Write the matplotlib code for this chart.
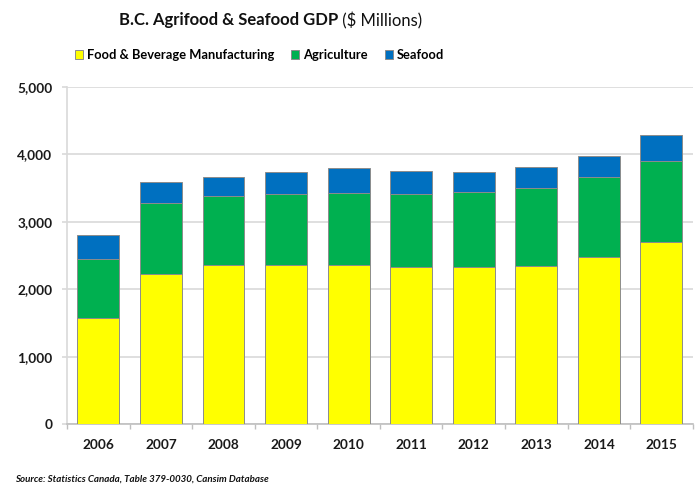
import numpy as np
import matplotlib.pyplot as plt
from matplotlib.ticker import FuncFormatter, FixedLocator

years = ['2006', '2007', '2008', '2009', '2010', '2011', '2012', '2013', '2014', '2015']
food_bev = [1573, 2226, 2359, 2359, 2359, 2329, 2335, 2344, 2478, 2700]
agriculture = [875, 1053, 1024, 1053, 1068, 1083, 1107, 1157, 1187, 1202]
seafood = [356, 311, 282, 327, 371, 342, 297, 312, 311, 386]

series = [
    ('Food & Beverage Manufacturing', food_bev, '#FFFF00'),
    ('Agriculture', agriculture, '#00B050'),
    ('Seafood', seafood, '#0070C0'),
]

plt.rcParams['font.family'] = ['Lato', 'DejaVu Sans']

fig = plt.figure(figsize=(6.99, 4.86), dpi=100)
ax = fig.add_axes([0.096, 0.1276, 0.895, 0.6934])

x = np.arange(len(years))
bottom = np.zeros(len(years))
for name, vals, col in series:
    ax.bar(x, vals, width=0.67, bottom=bottom, color=col, edgecolor='#8c8c8c',
           linewidth=0.7, label=name, zorder=3)
    bottom += np.array(vals)

ax.set_xlim(-0.5, len(years) - 0.5)
ax.set_ylim(0, 5000)
ax.set_yticks(np.arange(0, 5001, 1000))
ax.yaxis.set_major_formatter(FuncFormatter(lambda v, p: '{:,.0f}'.format(v)))
ax.grid(axis='y', color='#d9d9d9', linewidth=1.2, zorder=0)

ax.set_xticks(x)
ax.set_xticklabels(years)
ax.xaxis.set_minor_locator(FixedLocator(np.arange(-0.5, len(years), 1.0)))
ax.tick_params(axis='x', which='major', length=0, pad=11)
ax.tick_params(axis='x', which='minor', length=3.6, color='#bfbfbf', width=1)
ax.tick_params(axis='y', length=3.6, color='#d9d9d9', width=1.2, pad=7)
for lab in ax.get_xticklabels() + ax.get_yticklabels():
    lab.set_fontsize(9.8)
    lab.set_fontweight('bold')
    lab.set_color('#1a1a1a')

for s in ['top', 'right']:
    ax.spines[s].set_visible(False)
ax.spines['left'].set_color('#d9d9d9')
ax.spines['left'].set_linewidth(1.2)
ax.spines['bottom'].set_color('#bfbfbf')
ax.spines['bottom'].set_linewidth(1.2)

fig.text(0.484, 0.958, 'B.C. Agrifood & Seafood GDP', ha='right', va='center',
         fontsize=12, fontweight='bold', color='#111111')
fig.text(0.484, 0.958, ' ($ Millions)', ha='left', va='center',
         fontsize=12, color='#111111')

leg = fig.legend(loc='center', bbox_to_anchor=(0.371, 0.887), ncol=3, frameon=False,
                 handlelength=0.65, handleheight=0.65, handletextpad=0.3,
                 columnspacing=1.3, prop={'weight': 'bold', 'size': 9.3})

fig.text(0.021, 0.01, 'Source: Statistics Canada, Table 379-0030, Cansim Database',
         fontsize=7.0, fontweight='bold', fontstyle='italic', color='#111111')

fig.savefig('out.png', dpi=100)
